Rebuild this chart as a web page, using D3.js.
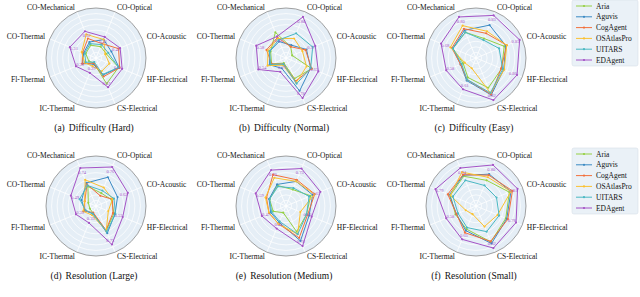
<!DOCTYPE html>
<html><head><meta charset="utf-8">
<script src="https://cdn.jsdelivr.net/npm/d3@7"></script>
<style>
html,body{margin:0;padding:0;background:#fff;}
svg{display:block;}
text{font-family:"Liberation Serif","Times New Roman","DejaVu Serif",serif;}
</style></head>
<body><svg id="c" width="640" height="297"></svg>
<script>
const categories = ["CO-Mechanical","CO-Optical","CO-Acoustic","HF-Electrical","CS-Electrical","IC-Thermal","Fl-Thermal","CO-Thermal"];
const seriesNames = ["Aria","Aguvis","CogAgent","OSAtlasPro","UITARS","EDAgent"];
const seriesColors = ["#95d044","#3b8ac4","#f2703c","#fbc12f","#4bb8c3","#a453c6"];
const panelTitles = ["(a)","(b)","(c)","(d)","(e)","(f)"];
const panelNames = ["Difficulty (Hard)","Difficulty (Normal)","Difficulty (Easy)","Resolution (Large)","Resolution (Medium)","Resolution (Small)"];
const radialTicks = [0.1,0.2,0.3,0.4,0.5,0.6,0.7,0.8,0.9];

// rows: Aria, Aguvis, CogAgent, OSAtlasPro, UITARS, EDAgent ; columns follow categories
const hardData = [
  [0.25,0.22,0.20,0.44,0.50,0.10,0.14,0.20],
  [0.31,0.36,0.30,0.45,0.33,0.12,0.26,0.24],
  [0.38,0.28,0.44,0.46,0.36,0.10,0.27,0.26],
  [0.46,0.36,0.18,0.26,0.26,0.16,0.22,0.28],
  [0.28,0.26,0.24,0.44,0.32,0.08,0.20,0.22],
  [0.52,0.41,0.47,0.51,0.57,0.29,0.39,0.51]
];
const normalData = [
  [0.50,0.22,0.12,0.50,0.40,0.10,0.28,0.30],
  [0.32,0.25,0.40,0.48,0.64,0.20,0.32,0.32],
  [0.40,0.22,0.38,0.50,0.45,0.12,0.28,0.38],
  [0.38,0.38,0.32,0.40,0.48,0.14,0.36,0.35],
  [0.35,0.48,0.52,0.48,0.50,0.12,0.30,0.32],
  [0.42,0.80,0.57,0.63,0.78,0.27,0.54,0.58]
];
const easyData = [
  [0.50,0.38,0.55,0.50,0.58,0.38,0.25,0.45],
  [0.54,0.64,0.58,0.54,0.72,0.44,0.30,0.45],
  [0.57,0.48,0.60,0.49,0.71,0.42,0.30,0.47],
  [0.63,0.52,0.60,0.55,0.68,0.20,0.22,0.50],
  [0.50,0.35,0.45,0.52,0.68,0.42,0.28,0.45],
  [0.80,0.83,0.85,0.80,0.82,0.61,0.58,0.68]
];
const largeData = [
  [0.38,0.25,0.30,0.35,0.48,0.14,0.12,0.15],
  [0.45,0.56,0.42,0.37,0.53,0.15,0.22,0.28],
  [0.42,0.20,0.32,0.33,0.47,0.13,0.22,0.22],
  [0.51,0.36,0.32,0.24,0.48,0.18,0.25,0.22],
  [0.40,0.30,0.35,0.38,0.50,0.15,0.20,0.32],
  [0.74,0.76,0.62,0.52,0.75,0.33,0.39,0.49]
];
const mediumData = [
  [0.40,0.32,0.48,0.40,0.50,0.13,0.25,0.32],
  [0.42,0.48,0.52,0.45,0.68,0.32,0.30,0.33],
  [0.61,0.51,0.56,0.42,0.62,0.35,0.33,0.38],
  [0.55,0.48,0.55,0.28,0.55,0.35,0.33,0.40],
  [0.38,0.35,0.45,0.40,0.55,0.30,0.28,0.32],
  [0.70,0.73,0.67,0.50,0.78,0.44,0.47,0.59]
];
const smallData = [
  [0.58,0.50,0.65,0.58,0.70,0.45,0.40,0.50],
  [0.60,0.62,0.68,0.60,0.73,0.48,0.38,0.52],
  [0.61,0.60,0.71,0.62,0.69,0.52,0.38,0.55],
  [0.66,0.56,0.68,0.42,0.40,0.16,0.20,0.50],
  [0.50,0.40,0.40,0.45,0.50,0.42,0.35,0.45],
  [0.74,0.80,0.81,0.78,0.82,0.65,0.58,0.79]
];
const panelData = [hardData, normalData, easyData, largeData, mediumData, smallData];

const FONT = "Liberation Serif, Times New Roman, DejaVu Serif, serif";
const svg = d3.select("#c");
const R = 50;
const centersX = [96, 286, 476];
const centersY = [58, 206];
const rScale = d3.scaleLinear().domain([0, 0.9]).range([0, R]);
const aScale = d3.scaleLinear().domain([0, categories.length]).range([-Math.PI/8, 2*Math.PI - Math.PI/8]);

panelData.forEach((data, p) => {
  const cx = centersX[p % 3], cy = centersY[Math.floor(p / 3)];
  const g = svg.append("g").attr("transform", `translate(${cx},${cy})`);
  g.append("circle").attr("r", R).attr("fill", "#e5eef6");
  g.selectAll("circle.ring").data(radialTicks.slice(0, -1)).join("circle")
    .attr("class","ring").attr("r", d => rScale(d)).attr("fill","none")
    .attr("stroke","#ffffff").attr("stroke-width",0.7);
  g.selectAll("line.spoke").data(categories).join("line")
    .attr("class","spoke")
    .attr("x1",0).attr("y1",0)
    .attr("x2",(d,i)=>R*Math.sin(aScale(i)))
    .attr("y2",(d,i)=>-R*Math.cos(aScale(i)))
    .attr("stroke","#ffffff").attr("stroke-width",0.8);
  g.append("circle").attr("r", R).attr("fill","none").attr("stroke","#8a8a8a").attr("stroke-width",0.8);

  g.selectAll("text.cat").data(categories).join("text")
    .attr("class","cat")
    .attr("font-family",FONT)
    .attr("x",(d,i)=>55*Math.sin(aScale(i)))
    .attr("y",(d,i)=>-55*Math.cos(aScale(i)))
    .attr("text-anchor",(d,i)=>Math.sin(aScale(i))>0?"start":"end")
    .attr("dominant-baseline","central")
    .attr("font-size",7.5).attr("fill","#111")
    .text(d=>d);

  const line = d3.lineRadial()
    .angle((d,i)=>aScale(i))
    .radius(d=>rScale(d))
    .curve(d3.curveLinearClosed);

  data.forEach((vals, s) => {
    g.append("path").attr("d", line(vals)).attr("fill","none")
      .attr("stroke", seriesColors[s]).attr("stroke-width", 1);
    g.selectAll(null).data(vals).join("circle")
      .attr("cx",(d,i)=>rScale(d)*Math.sin(aScale(i)))
      .attr("cy",(d,i)=>-rScale(d)*Math.cos(aScale(i)))
      .attr("r",1.1).attr("fill",seriesColors[s]);
  });
  const ed = data[data.length-1];
  g.selectAll("text.val").data(ed).join("text")
    .attr("class","val")
    .attr("font-family",FONT)
    .attr("x",(d,i)=>(rScale(d)-4.5)*Math.sin(aScale(i)))
    .attr("y",(d,i)=>-(rScale(d)-4.5)*Math.cos(aScale(i)))
    .attr("text-anchor","middle").attr("dominant-baseline","central")
    .attr("font-size",4.5).attr("fill",seriesColors[5])
    .text(d=>d.toFixed(2));

  const cap = svg.append("text").attr("x",cx-2).attr("y",cy+70)
    .attr("font-family",FONT)
    .attr("text-anchor","middle").attr("dominant-baseline","central")
    .attr("font-size",9.5).attr("fill","#111");
  cap.append("tspan").text(panelTitles[p]);
  cap.append("tspan").attr("dx",4).text(panelNames[p]);
});

[0, 148].forEach(y0 => {
  const lg = svg.append("g").attr("transform",`translate(572,${y0})`);
  lg.append("rect").attr("x",0).attr("y",0).attr("width",66).attr("height",66).attr("rx",2)
    .attr("fill","#eaf1f7").attr("stroke","#d6dfe8").attr("stroke-width",0.6);
  seriesNames.forEach((n,i)=>{
    const yy = 6 + i*10.8;
    lg.append("line").attr("x1",4).attr("x2",20).attr("y1",yy).attr("y2",yy)
      .attr("stroke",seriesColors[i]).attr("stroke-width",1);
    lg.append("circle").attr("cx",12).attr("cy",yy).attr("r",1.1).attr("fill",seriesColors[i]);
    lg.append("text").attr("x",24).attr("y",yy).attr("dominant-baseline","central")
      .attr("font-family",FONT)
      .attr("font-size",7.5).attr("fill","#111").text(n);
  });
});
</script></body></html>
